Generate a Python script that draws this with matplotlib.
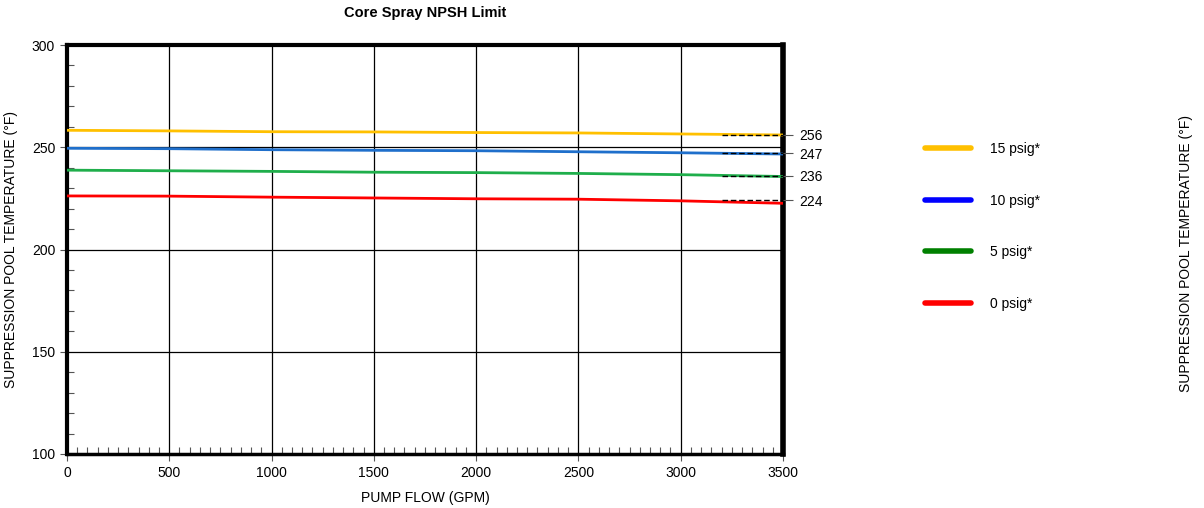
import matplotlib.pyplot as plt
from matplotlib.lines import Line2D
from matplotlib.ticker import MultipleLocator

plt.rcParams["font.family"] = ["Liberation Sans", "DejaVu Sans"]

# Pump flow (GPM) and limit curves (deg F)
flow = [0, 500, 1000, 1500, 2000, 2500, 3000, 3500]
temp_15 = [258.3, 258.0, 257.6, 257.5, 257.2, 257.0, 256.5, 256.0]
temp_10 = [249.5, 249.3, 248.8, 248.5, 248.3, 247.8, 247.3, 246.7]
temp_5 = [238.8, 238.5, 238.2, 237.8, 237.6, 237.2, 236.6, 235.7]
temp_0 = [226.2, 226.1, 225.6, 225.2, 224.8, 224.6, 223.8, 222.6]

# Values marked on the right axis with dashed leaders
right_vals = [256, 247, 236, 224]
dash_start = 3200

series = [
    ("15 psig*", temp_15, "#FFC000", "#FFC000"),
    ("10 psig*", temp_10, "#1F6FCB", "#0000FF"),
    ("5 psig*", temp_5, "#1FAE4B", "#008000"),
    ("0 psig*", temp_0, "#FF0000", "#FF0000"),
]

fig = plt.figure(figsize=(12.04, 5.08), dpi=100)
ax = fig.add_axes([0.0556, 0.1063, 0.5947, 0.8051])

for label, vals, color, _ in series:
    ax.plot(flow, vals, color=color, linewidth=2.0, zorder=3)

for v in right_vals:
    ax.plot([dash_start, 3500], [v, v], color="black", linewidth=1.0,
            linestyle=(0, (4, 2)), zorder=4)

ax.set_xlim(0, 3500)
ax.set_ylim(100, 300)
ax.xaxis.set_major_locator(MultipleLocator(500))
ax.xaxis.set_minor_locator(MultipleLocator(50))
ax.yaxis.set_major_locator(MultipleLocator(50))
ax.yaxis.set_minor_locator(MultipleLocator(10))
ax.grid(True, which="major", color="black", linewidth=0.9)

ax.tick_params(axis="both", which="major", direction="out", length=5,
               width=0.8, labelsize=10, color="#555555")
ax.tick_params(axis="both", which="minor", direction="in", length=5,
               width=0.8, color="#555555")

for side in ["left", "top"]:
    ax.spines[side].set_linewidth(3)
ax.spines["right"].set_linewidth(4)
ax.spines["bottom"].set_linewidth(2.5)

ax.set_xlabel("PUMP FLOW (GPM)", fontsize=10, labelpad=8)
ax.set_ylabel("SUPPRESSION POOL TEMPERATURE (°F)", fontsize=10, labelpad=10)
ax.set_title("Core Spray NPSH Limit", fontsize=10.5, fontweight="bold", pad=20)

# Right-hand value labels
axr = ax.twinx()
axr.set_ylim(ax.get_ylim())
axr.set_yticks(right_vals)
axr.tick_params(axis="y", direction="out", length=7, width=0.8,
                labelsize=10, color="#555555", pad=5)
for side in ["left", "top", "bottom", "right"]:
    axr.spines[side].set_visible(False)

handles = [Line2D([0], [0], color=lc, linewidth=4, solid_capstyle="round")
           for _, _, _, lc in series]
labels = [s[0] for s in series]
fig.legend(handles, labels, loc="upper left", bbox_to_anchor=(0.758, 0.745),
           frameon=False, fontsize=10, handlelength=3.3, handletextpad=1.4,
           labelspacing=2.7)

fig.text(0.985, 0.5, "SUPPRESSION POOL TEMPERATURE (°F)", rotation=90,
         ha="center", va="center", fontsize=10)

fig.savefig("out.png", dpi=100)
